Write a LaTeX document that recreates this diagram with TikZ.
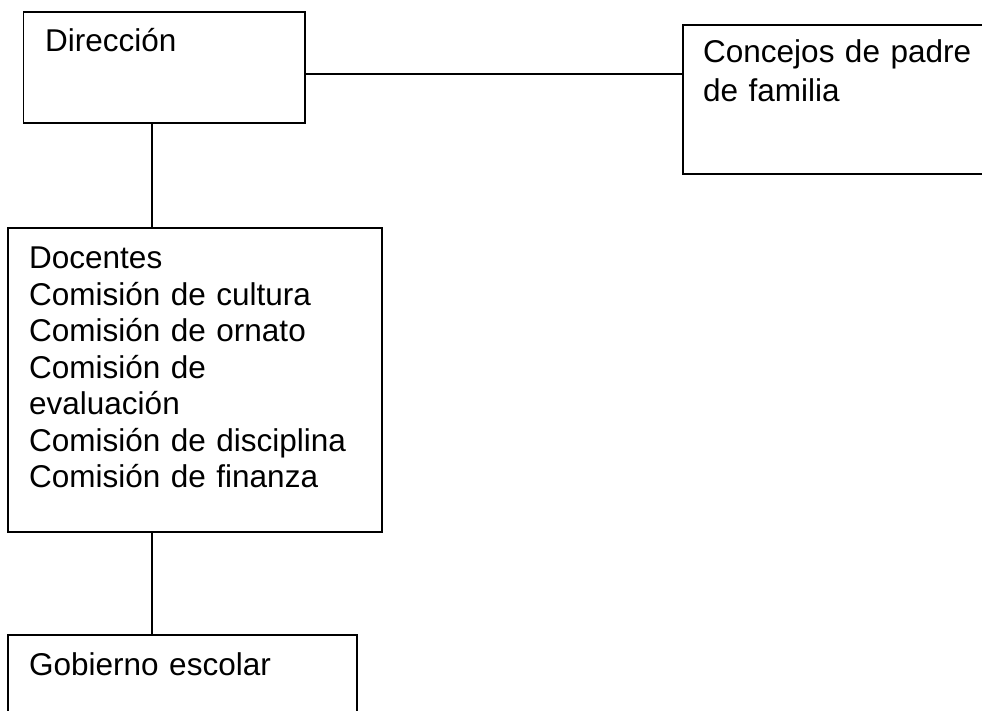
\documentclass[tikz,border=0pt]{standalone}
\usepackage{fontspec}
\setmainfont{Liberation Sans}
\begin{document}
\begin{tikzpicture}[x=1pt,y=-1pt]
\tikzstyle{box}=[rectangle, draw, line width=1.6pt, inner sep=0pt, outer sep=0pt, anchor=north west]
\tikzstyle{box-text}=[inner sep=0pt, anchor=base west, align=left, text width=360pt, font=\fontsize{31.5}{36.5}\selectfont]
\tikzstyle{org-edge}=[-,black,line width=1.6pt]
\useasboundingbox (0,0) rectangle (982,711);

\node[style=box, minimum width=281.5pt, minimum height=111pt] (dir) at (23.5,12) {};
\node[style=box, minimum width=330pt, minimum height=149pt] (con) at (683,25) {};
\node[style=box, minimum width=374pt, minimum height=304pt] (doc) at (8,228) {};
\node[style=box, minimum width=349pt, minimum height=120pt] (gob) at (8,635) {};

\node[style=box-text, xshift=21.5pt, yshift=-40pt] (dir-text) at (dir.north west) {Dirección};
\node[style=box-text, xshift=20pt, yshift=-38pt, font=\fontsize{31.5}{38.5}\selectfont] (con-text) at (con.north west) {Concejos de padre\\de familia};
\node[style=box-text, xshift=21pt, yshift=-41pt] (doc-text) at (doc.north west) {Docentes\\Comisión de cultura\\Comisión de ornato\\Comisión de\\evaluación\\Comisión de disciplina\\Comisión de finanza};
\node[style=box-text, xshift=21pt, yshift=-40pt] (gob-text) at (gob.north west) {Gobierno escolar};

\coordinate (spine) at (152,0);
\coordinate (link) at (0,74);

\draw[style=org-edge] (dir.south -| spine) -- (doc.north -| spine);
\draw[style=org-edge] (doc.south -| spine) -- (gob.north -| spine);
\draw[style=org-edge] (dir.east |- link) -- (con.west |- link);

\end{tikzpicture}
\end{document}
